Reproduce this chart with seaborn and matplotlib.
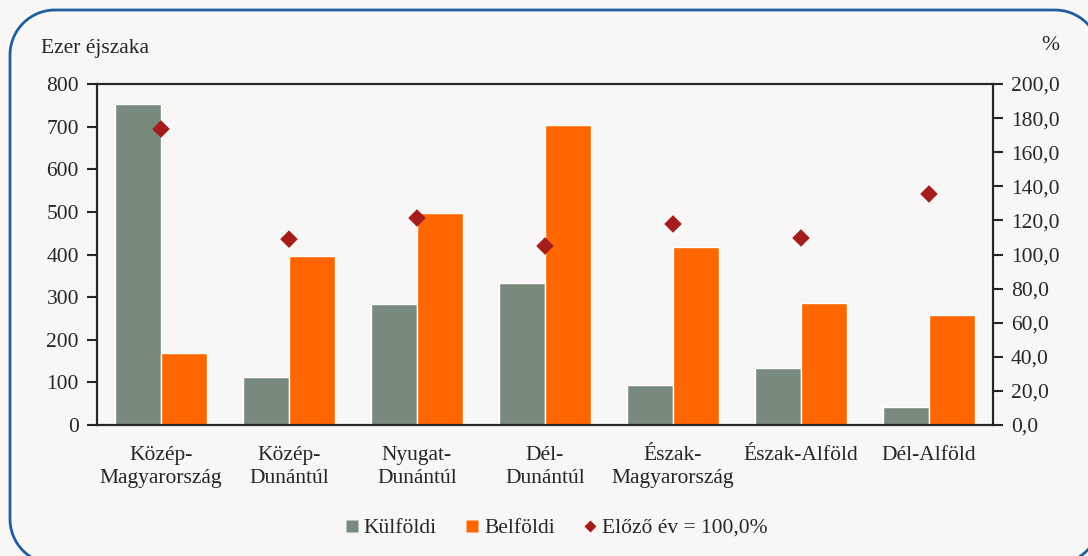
import numpy as np
import pandas as pd
import matplotlib.pyplot as plt
import seaborn as sns
from matplotlib.patches import PathPatch
from matplotlib.path import Path
from matplotlib.transforms import Affine2D
from matplotlib.lines import Line2D
from matplotlib.ticker import FuncFormatter

# Adatok
regiok = ["Közép-\nMagyarország", "Közép-\nDunántúl", "Nyugat-\nDunántúl", "Dél-\nDunántúl",
          "Észak-\nMagyarország", "Észak-Alföld", "Dél-Alföld"]
kulfoldi = [753, 113, 284, 333, 94, 134, 42]
belfoldi = [169, 397, 498, 704, 418, 286, 258]
elozo_ev = [173.6, 109.0, 121.4, 105.0, 117.9, 109.7, 135.5]

bg = "#F8F7F5"
c_kul = "#778A7C"
c_bel = "#FF6600"
c_ev = "#A51C1C"

sns.set_style("white")
plt.rcParams["font.family"] = ["Liberation Serif", "DejaVu Serif"]
plt.rcParams["font.size"] = 15.5

df = pd.DataFrame({
    "regio": regiok * 2,
    "ertek": kulfoldi + belfoldi,
    "tipus": ["Külföldi"] * 7 + ["Belföldi"] * 7,
})

fig = plt.figure(figsize=(10.88, 5.56), dpi=100, facecolor=bg)
ax = fig.add_axes([97 / 1088, 1 - 425 / 556, 896 / 1088, 341 / 556])
ax.set_facecolor(bg)

sns.barplot(data=df, x="regio", y="ertek", hue="tipus", palette=[c_kul, c_bel],
            width=0.72, ax=ax, legend=False, saturation=1)
ax.set_ylim(0, 800)
ax.set_xlim(-0.5, 6.5)
ax.set_yticks(range(0, 801, 100))
ax.set_xlabel("")
ax.set_ylabel("")
ax.tick_params(axis="x", length=0, pad=15)
for lbl in ax.get_xticklabels():
    lbl.set_linespacing(1.3)
ax.tick_params(axis="y", length=7, width=1.5, direction="out", left=True, pad=6)
for s in ax.spines.values():
    s.set_linewidth(1.5)
    s.set_color("black")

# jobb tengely: előző év = 100%
ax2 = ax.twinx()
sns.scatterplot(x=list(range(7)), y=elozo_ev, marker="D", color=c_ev, s=80,
                edgecolor="none", ax=ax2, zorder=5)
ax2.set_ylim(0, 200)
ax2.set_yticks(range(0, 201, 20))
ax2.yaxis.set_major_formatter(FuncFormatter(lambda v, p: f"{v:.1f}".replace(".", ",")))
ax2.tick_params(axis="y", length=7, width=1.5, direction="out", right=True, pad=6)
for s in ax2.spines.values():
    s.set_linewidth(1.5)

fig.text(41 / 1088, 1 - 48 / 556, "Ezer éjszaka", va="center")
fig.text(1050 / 1088, 1 - 46 / 556, "%", va="center", ha="center")

handles = [
    Line2D([], [], marker="s", color="none", markerfacecolor=c_kul, markeredgecolor="none", markersize=9),
    Line2D([], [], marker="s", color="none", markerfacecolor=c_bel, markeredgecolor="none", markersize=9),
    Line2D([], [], marker="D", color="none", markerfacecolor=c_ev, markeredgecolor="none", markersize=6),
]
fig.legend(handles, ["Külföldi", "Belföldi", "Előző év = 100,0%"], loc="center",
           bbox_to_anchor=(556 / 1088, 1 - 528 / 556), ncol=3, frameon=False,
           handletextpad=0.2, columnspacing=1.3, handlelength=0.7)

# lekerekített keret, képpontokban (y felfelé nő)
x0, x1, y0, y1, r = 10, 1100, -8, 546, 45
pts = []
for cx, cy, a1, a2 in [(x1 - r, y1 - r, 0, 90), (x0 + r, y1 - r, 90, 180),
                       (x0 + r, y0 + r, 180, 270), (x1 - r, y0 + r, 270, 360)]:
    t = np.radians(np.linspace(a1, a2, 30))
    pts += list(zip(cx + r * np.cos(t), cy + r * np.sin(t)))
pts.append(pts[0])
keret = PathPatch(Path(pts), facecolor="none", edgecolor="#1F5FA0", linewidth=2)
keret.set_transform(Affine2D().scale(1 / 100) + fig.dpi_scale_trans)
fig.add_artist(keret)

fig.savefig("out.png", dpi=100, facecolor=bg)
